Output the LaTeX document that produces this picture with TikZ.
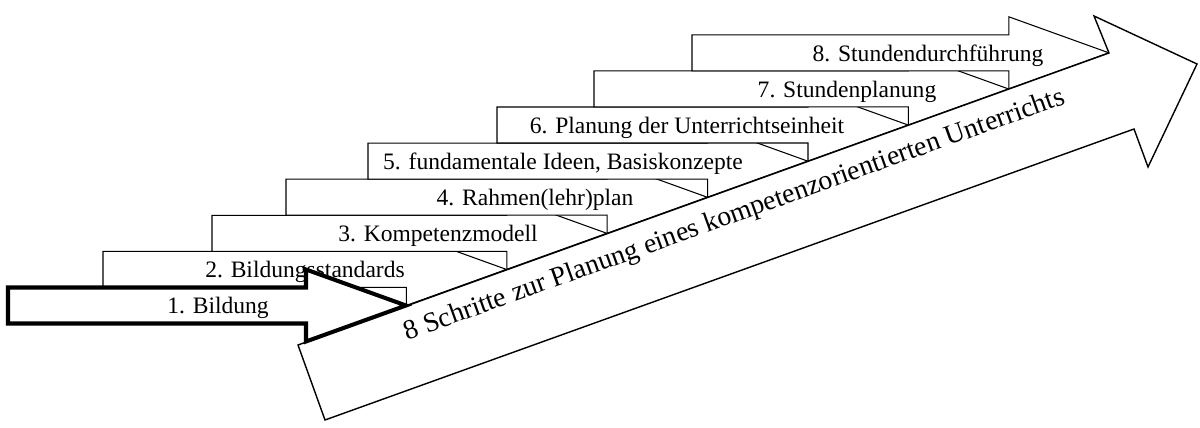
\documentclass[tikz,border=0pt]{standalone}
\usepackage{fontspec}
\setmainfont{Liberation Serif}
\usepackage{tikz}

\begin{document}
\begin{tikzpicture}[x=0.02cm, y=-0.02cm,
  stepbox/.style={draw, fill=white, line width=0.6pt, miter limit=10},
  firstbox/.style={stepbox, line width=2.3pt},
  bigarrow/.style={draw, fill=white, line width=0.8pt, miter limit=10},
  steplabel/.style={font=\fontsize{13.4}{16}\selectfont, inner sep=0pt, anchor=base},
  arrowlabel/.style={font=\fontsize{15.8}{19}\selectfont, inner sep=0pt,
                     anchor=base, rotate=19.78}
]
\useasboundingbox (0,0) rectangle (1200,428);

%% Steps 2..8 (each one drawn over the one below it)
\foreach \k/\lft/\tx/\txt in {
    2/103/305/{2. Bildungsstandards},
    3/212/438/{3. Kompetenzmodell},
    4/286/535/{4. Rahmen(lehr)plan},
    5/368/563/{5. fundamentale Ideen, Basiskonzepte},
    6/497/687/{6. Planung der Unterrichtseinheit},
    7/594/847/{7. Stundenplanung},
    8/692/928/{8. Stundendurchführung}}{
  \pgfmathsetmacro\tipx{406+100.4*(\k-1)}
  \pgfmathsetmacro\tipy{305.5-36.1*(\k-1)}
  \pgfmathsetmacro\sh{\tipx-100}
  \draw[stepbox] (\lft,\tipy-18) -- (\sh,\tipy-18) -- (\sh,\tipy-36)
    -- (\tipx,\tipy) -- (\sh,\tipy+36) -- (\sh,\tipy+18)
    -- (\lft,\tipy+18) -- cycle;
  \node[steplabel] (s\k) at (\tx,\tipy+8.5) {\txt};
}

%% Big arrow
\draw[bigarrow] (298,345) -- (1109,53) -- (1094,16) -- (1197,64)
  -- (1148,167) -- (1134,129) -- (325,420) -- cycle;
\node[arrowlabel] (goal) at (737,222)
  {8 Schritte zur Planung eines kompetenzorientierten Unterrichts};

%% Step 1 on top
\draw[firstbox] (8,287.5) -- (306,287.5) -- (306,269.5) -- (406,305.5)
  -- (306,341.5) -- (306,323.5) -- (8,323.5) -- cycle;
\node[steplabel] (s1) at (218,314) {1. Bildung};

\end{tikzpicture}
\end{document}
